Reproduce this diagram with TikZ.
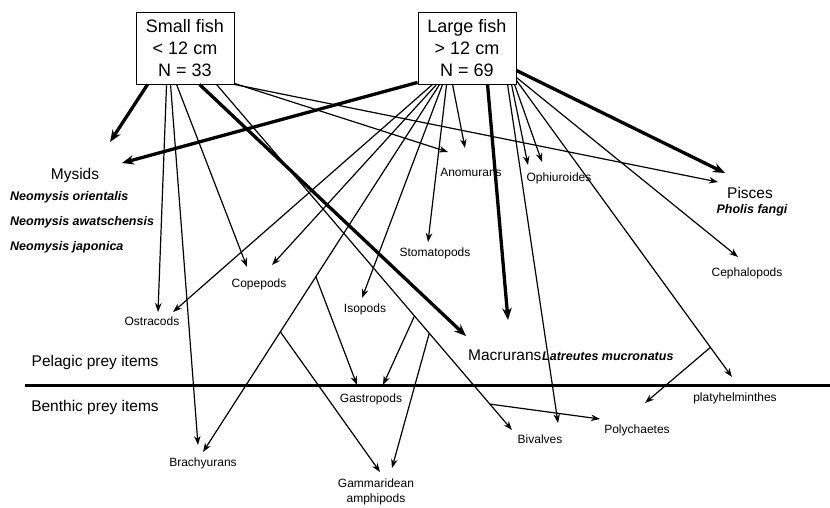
\documentclass[tikz,border=0pt]{standalone}
\usepackage{fontspec}
\setmainfont{Liberation Sans}
\usetikzlibrary{arrows.meta}

\def\u{1pt}

\begin{document}
\begin{tikzpicture}[x=\u, y=-\u]
			\tikzset{edge/.style={->, > = {Stealth[length=9pt, width=6.5pt]}, line width=1.2pt},
				heavy/.style={->, > = {Stealth[length=12pt, width=9.5pt]}, line width=3.3pt},
				fish/.style={draw, line width=0.9pt, minimum width=98pt, minimum height=72pt, align=center, inner sep=0pt, font=\fontsize{18}{22}\selectfont},
				prey/.style={inner sep=0pt, font=\fontsize{12}{15}\selectfont},
				group/.style={inner sep=0pt, font=\fontsize{15.5}{18}\selectfont},
				species/.style={inner sep=0pt, anchor=west, font=\fontsize{12.5}{14}\selectfont\bfseries\itshape}}
			\useasboundingbox (0,0) rectangle (830,507);
			% fish groups
			\node[fish](sf) at (185,48){Small fish\\< 12 cm\\N = 33};
			\node[fish](lf) at (467,48){Large fish\\> 12 cm\\N = 69};
			% prey items
			\node[group](mys) at (75,175){Mysids};
			\node[species](neo1) at (10,197){Neomysis orientalis};
			\node[species](neo2) at (10,222){Neomysis awatschensis};
			\node[species](neo3) at (10,247){Neomysis japonica};
			\node[prey](ost) at (152,321){Ostracods};
			\node[prey](cop) at (259,284){Copepods};
			\node[prey](iso) at (365,309){Isopods};
			\node[prey](sto) at (435,253){Stomatopods};
			\node[prey](ano) at (471,172){Anomurans};
			\node[prey](oph) at (559,178){Ophiuroides};
			\node[group](pis) at (750,193){Pisces};
			\node[species, anchor=center](pho) at (752,210){Pholis fangi};
			\node[prey](cep) at (747,273){Cephalopods};
			\node[group, anchor=west](mac) at (468,355){Macrurans};
			\node[species](lat) at (542,356){Latreutes mucronatus};
			\node[group](pel) at (95,362){Pelagic prey items};
			\node[group](ben) at (95,407){Benthic prey items};
			\node[prey](gas) at (371,399){Gastropods};
			\node[prey](bra) at (203,463){Brachyurans};
			\node[prey, align=center](gam) at (376,492){Gammaridean\\amphipods};
			\node[prey](biv) at (540,439){Bivalves};
			\node[prey](pol) at (637,430){Polychaetes};
			\node[prey](pla) at (735,398){platyhelminthes};
			% pelagic / benthic border
			\coordinate(zl) at (25,385);
			\coordinate(zr) at (830,385);
			\draw[line width=3pt] (zl)--(zr);
			% start points on the boxes
			\coordinate(s1) at ([xshift=12pt]sf.south west);
			\coordinate(s2) at ([xshift=31pt]sf.south west);
			\coordinate(s3) at ([xshift=35pt]sf.south west);
			\coordinate(s4) at ([xshift=41pt]sf.south west);
			\coordinate(s5) at ([xshift=64pt]sf.south west);
			\coordinate(s6) at ([xshift=81pt]sf.south west);
			\coordinate(s7) at ([yshift=1pt]sf.south east);
			\coordinate(s8) at (sf.south east);
			\coordinate(l0) at ([yshift=2pt]lf.south west);
			\coordinate(l1) at ([xshift=15pt]lf.south west);
			\coordinate(l2) at ([xshift=19pt]lf.south west);
			\coordinate(l3) at ([xshift=22pt]lf.south west);
			\coordinate(l4) at ([xshift=25pt]lf.south west);
			\coordinate(l5) at ([xshift=29pt]lf.south west);
			\coordinate(l6) at ([xshift=35pt]lf.south west);
			\coordinate(l7) at ([xshift=70pt]lf.south west);
			\coordinate(l8) at ([xshift=90pt]lf.south west);
			\coordinate(l9) at ([xshift=94pt]lf.south west);
			\coordinate(l10) at ([xshift=97pt]lf.south west);
			\coordinate(r1) at ([yshift=4pt]lf.south east);
			\coordinate(r2) at ([yshift=7pt]lf.south east);
			\coordinate(r3) at ([yshift=14pt]lf.south east);
			% arrow tips
			\coordinate(mys1) at (110,142);
			\coordinate(mys2) at (122,163);
			\coordinate(ost1) at (158,312);
			\coordinate(ost2) at (173,312);
			\coordinate(bra1) at (198,445);
			\coordinate(bra2) at (203,452);
			\coordinate(cop1) at (247,267);
			\coordinate(cop2) at (272,265);
			\coordinate(mac1) at (466,336);
			\coordinate(mac2) at (508,320);
			\coordinate(biv1) at (512,430);
			\coordinate(biv2) at (558,423);
			\coordinate(ano1) at (448,152);
			\coordinate(ano2) at (465,148);
			\coordinate(pis1) at (718,182);
			\coordinate(pis2) at (725,173);
			\coordinate(gas1) at (357,385);
			\coordinate(gas2) at (383,385);
			\coordinate(gam1) at (380,472);
			\coordinate(gam2) at (392,468);
			\coordinate(pol1) at (600,419);
			\coordinate(iso1) at (362,298);
			\coordinate(sto1) at (428,242);
			\coordinate(oph1) at (528,165);
			\coordinate(oph2) at (542,162);
			\coordinate(pla1) at (732,377);
			\coordinate(pla2) at (645,403);
			\coordinate(cep1) at (738,257);
			% small fish
			\draw[heavy] (s1)--(mys1);
			\draw[edge] (s2)--(ost1);
			\draw[edge] (s3)--(bra1);
			\draw[edge] (s4)--(cop1);
			\draw[heavy] (s5)--(mac1);
			\draw[edge] (s6)-- coordinate[pos=0.67](b1) coordinate[pos=0.72](b2) coordinate[pos=0.925](b3) (biv1);
			\draw[edge] (s7)--(ano1);
			\draw[edge] (s8)--(pis1);
			\draw[edge] (b1)--(gas2);
			\draw[edge] (b2)--(gam2);
			\draw[edge] (b3)--(pol1);
			% large fish
			\draw[heavy] (l0)--(mys2);
			\draw[edge] (l1)--(ost2);
			\draw[edge] (l2)--(cop2);
			\draw[edge] (l3)-- coordinate[pos=0.523](a1) coordinate[pos=0.673](a2) (bra2);
			\draw[edge] (a1)--(gas1);
			\draw[edge] (a2)--(gam1);
			\draw[edge] (l4)--(iso1);
			\draw[edge] (l5)--(sto1);
			\draw[edge] (l6)--(ano2);
			\draw[heavy] (l7)--(mac2);
			\draw[edge] (l8)--(biv2);
			\draw[edge] (l9)--(oph1);
			\draw[edge] (l10)--(oph2);
			\draw[edge] (r1)-- coordinate[pos=0.9](p1) (pla1);
			\draw[edge] (p1)--(pla2);
			\draw[edge] (r2)--(cep1);
			\draw[heavy] (r3)--(pis2);
		\end{tikzpicture}
\end{document}
